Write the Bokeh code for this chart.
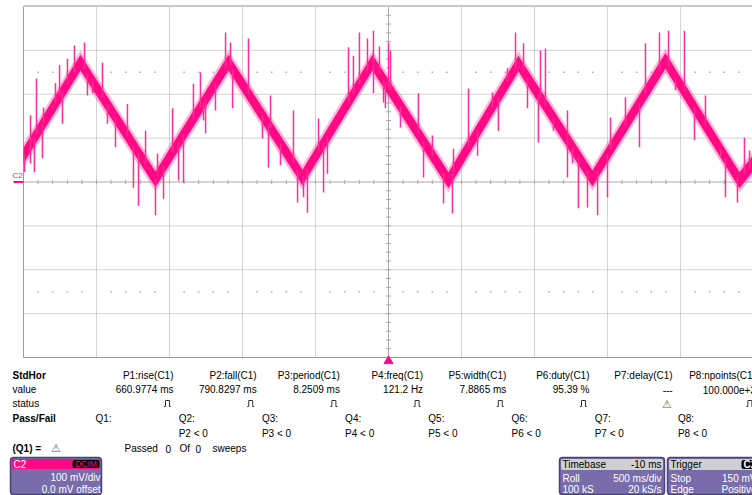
import numpy as np
from bokeh.plotting import figure
from bokeh.layouts import column
from bokeh.models import Range1d
from bokeh.core.properties import value
from bokeh.embed import file_html
from bokeh.resources import INLINE

# ---------------- data read from the screen ----------------
# triangle-like C2 trace: turning points (time in s, level in mV)
wave_t = [0.000, 0.390, 0.904, 1.404, 1.911, 2.390, 2.911, 3.390, 3.897, 4.397, 4.904, 5.000]
wave_v = [60, 272, 6, 272, 10, 272, 4, 270, 8, 276, 4, 44]
noise_half = 18      # mV, half height of the dense noise band
fuzz_half = 28       # mV, outer fuzzy edge of the band

# isolated noise spikes: time (s) and tip level (mV)
spike_t = [0.007, 0.048, 0.048, 0.075, 0.089, 0.130, 0.137, 0.199, 0.219, 0.247,
           0.267, 0.301, 0.349, 0.418, 0.438, 0.473, 0.541, 0.575, 0.630, 0.712,
           0.753, 0.788, 0.836, 0.904, 0.918, 0.959, 1.021, 1.062, 1.096, 1.164,
           1.212, 1.233, 1.247, 1.315, 1.384, 1.418, 1.432, 1.541, 1.637, 1.678,
           1.692, 1.760, 1.849, 1.877, 1.918, 1.945, 2.021, 2.055, 2.082, 2.226,
           2.260, 2.301, 2.356, 2.397, 2.397, 2.438, 2.466, 2.479, 2.500, 2.514,
           2.582, 2.705, 2.740, 2.801, 2.877, 2.938, 2.945, 3.048, 3.110, 3.178,
           3.212, 3.253, 3.315, 3.370, 3.425, 3.452, 3.527, 3.541, 3.575, 3.630,
           3.726, 3.726, 3.760, 3.801, 3.863, 3.932, 4.000, 4.021, 4.123, 4.219,
           4.260, 4.356, 4.418, 4.466, 4.527, 4.596, 4.671, 4.774, 4.808, 4.890,
           4.938, 4.973]
spike_v = [22, 152, 42, 22, 236, 54, 170, 174, 225, 266,
           133, 281, 311, 318, 197, 202, 272, 133, 79, 178,
           -13, -54, 117, -76, 65, -38, 168, 3, -1, 224,
           250, 140, 111, 163, 341, 318, 168, 327, 99, 33,
           197, 38, 163, -47, -35, -70, 145, -24, 19, 307,
           288, 341, 327, 345, 202, 309, 181, 168, 318, 299,
           124, 202, 10, 106, -49, -72, 76, 213, 60, 156,
           204, 117, 259, 341, 316, 168, 90, 300, 304, 117,
           10, 163, 42, -60, -58, -76, -35, 147, 193, 79,
           316, 341, 345, 209, 345, 95, 197, 56, -35, -47,
           101, 72]

ch_name = "C2"
ch_offset = 0.0          # mV
trig_time = 2.5          # s (screen centre)

meas_names = ["P1:rise(C1)", "P2:fall(C1)", "P3:period(C1)", "P4:freq(C1)",
              "P5:width(C1)", "P6:duty(C1)", "P7:delay(C1)", "P8:npoints(C1)"]
meas_values = ["660.9774 ms", "790.8297 ms", "8.2509 ms", "121.2 Hz",
               "7.8865 ms", "95.39 %", "---", "100.000e+3"]
meas_status = ["ok", "ok", "ok", "ok", "ok", "ok", "warn", "ok"]
qf_names = ["Q1:", "Q2:", "Q3:", "Q4:", "Q5:", "Q6:", "Q7:", "Q8:"]
qf_conds = ["", "P2 < 0", "P3 < 0", "P4 < 0", "P5 < 0", "P6 < 0", "P7 < 0", "P8 < 0"]
passed_words = ["Passed", "0", "Of", "0", "sweeps"]

ch_box = ["C2", "DCIM", "100 mV/div", "0.0 mV offset"]
tb_box = [["Timebase", "-10 ms"], ["Roll", "500 ms/div"], ["100 kS", "20 kS/s"]]
trig_box = [["Trigger", "C2"], ["Stop", "150 mV"], ["Edge", "Positive"]]

# ---------------- styling / geometry ----------------
FONT = "Liberation Sans"
PINK = "#ff0a84"
SPIKE = "#ff2d95"
FUZZ = "#ff5aac"
GRID = "#a6a6a6"
AXC = "#a9a9a9"
BOXF = "#786cab"
BOXL = "#4a4378"
HEADG = "#cfcfcf"

T_DIV, V_DIV = 0.5, 100.0
NX, NY = 10, 8
XPX, YPX = 73.0, 43.875       # pixels per division

W = 752
H1 = 366
H2 = 129
left_pad = 23.0
centre_from_top = 181.5

x_start = -left_pad / XPX * T_DIV
x_end = (W - left_pad) / XPX * T_DIV
y_end = centre_from_top / YPX * V_DIV
y_start = -(H1 - centre_from_top) / YPX * V_DIV
px_t = T_DIV / XPX
px_v = V_DIV / YPX

p = figure(width=W, height=H1, x_range=Range1d(x_start, x_end),
           y_range=Range1d(y_start, y_end), x_axis_type=None, y_axis_type=None,
           toolbar_location=None, tools="", output_backend="svg", min_border=0,
           outline_line_color=None, background_fill_color="white",
           border_fill_color="white")

t_max = NX * T_DIV
v_max = NY / 2 * V_DIV
t_mid = t_max / 2

# dotted graticule
grid_t = [k * T_DIV for k in range(1, NX) if k != NX // 2]
grid_v = [k * V_DIV for k in range(-NY // 2 + 1, NY // 2) if k != 0]
p.segment(x0=grid_t, y0=-v_max, x1=grid_t, y1=v_max, line_color=GRID,
          line_width=1, line_dash="1 1")
p.segment(x0=0, y0=grid_v, x1=t_max, y1=grid_v, line_color=GRID,
          line_width=1, line_dash="1 1")

# minor dot rows
dot_t = [k * T_DIV / 5 for k in range(1, NX * 5) if k % 5 != 0]
for vv in (2.5 * V_DIV, -2.5 * V_DIV):
    p.scatter(x=dot_t, y=[vv] * len(dot_t), marker="square", size=1.6,
              fill_color="#b0b0b0", line_color=None)

# centre cross with ticks
p.segment(x0=t_mid, y0=-v_max, x1=t_mid, y1=v_max, line_color=AXC, line_width=1)
p.segment(x0=0, y0=0, x1=t_max, y1=0, line_color=AXC, line_width=1)
tick_t = [k * T_DIV / 5 for k in range(0, NX * 5 + 1)]
p.segment(x0=tick_t, y0=-2.2 * px_v, x1=tick_t, y1=2.2 * px_v, line_color=AXC)
tick_v = [k * V_DIV / 5 for k in range(-NY // 2 * 5, NY // 2 * 5 + 1)]
p.segment(x0=t_mid - 2.5 * px_t, y0=tick_v, x1=t_mid + 2.5 * px_t, y1=tick_v,
          line_color=AXC)

# screen borders
p.segment(x0=0, y0=-v_max, x1=0, y1=v_max, line_color="#9c9c9c", line_width=1)
p.segment(x0=0, y0=-v_max, x1=t_max, y1=-v_max, line_color="#9c9c9c", line_width=1)
p.segment(x0=0, y0=v_max + 0.5 * px_v, x1=t_max, y1=v_max + 0.5 * px_v,
          line_color="#c8c8c8", line_width=2)

# trace
wt = np.array(wave_t)
wv = np.array(wave_v, dtype=float)
p.varea(x=wt, y1=wv - fuzz_half, y2=wv + fuzz_half, fill_color=FUZZ, fill_alpha=0.45)
p.varea(x=wt, y1=wv - noise_half, y2=wv + noise_half, fill_color=PINK)
st = np.array(spike_t)
base = np.interp(st, wt, wv)
p.segment(x0=st, y0=base, x1=st, y1=spike_v, line_color=SPIKE, line_width=1.5)

# channel marker and trigger marker
p.segment(x0=-10 * px_t, y0=ch_offset, x1=0, y1=ch_offset, line_color=PINK, line_width=2)
p.text(x=[-11 * px_t], y=[ch_offset + 7 * px_v], text=[ch_name],
       text_font=value(FONT), text_font_size="8px", text_color=PINK,
       text_baseline="middle", text_align="left")
p.scatter(x=[trig_time], y=[-v_max - 3.5 * px_v], marker="triangle", size=9,
          fill_color=PINK, line_color=PINK)

# ---------------- measurement panel ----------------
PB = 495.0
p2 = figure(width=W, height=H2, x_range=Range1d(0, W), y_range=Range1d(0, H2),
            x_axis_type=None, y_axis_type=None, toolbar_location=None, tools="",
            output_backend="svg", min_border=0, outline_line_color=None,
            background_fill_color="white", border_fill_color="white")


def Y(ry):
    return PB - ry


def txt(xs, ys, texts, align="left", color="black", bold=False, size="10px"):
    p2.text(x=xs, y=ys, text=texts, text_font=value(FONT), text_font_size=size,
            text_color=color, text_align=align, text_baseline="middle",
            text_font_style="bold" if bold else "normal")


col_w = 83.2
p_right = [173 + col_w * k for k in range(8)]
q_left = [95 + col_w * k for k in range(8)]

txt([12], [Y(375)], ["StdHor"], bold=True)
txt([12, 12], [Y(389), Y(403)], ["value", "status"])
txt([12], [Y(418)], ["Pass/Fail"], bold=True)
txt([12], [Y(448)], ["(Q1) ="], bold=True)
txt(p_right, [Y(375)] * 8, meas_names, align="right")
txt(p_right, [Y(389)] * 8, meas_values, align="right")
txt(q_left, [Y(418)] * 8, qf_names)
txt(q_left[1:], [Y(433)] * 7, qf_conds[1:])

# status icons
xs_ic, ys_ic, warn_x = [], [], []
for k, s in enumerate(meas_status):
    cx = p_right[k] - 6
    if s == "ok":
        b = Y(406)
        xs_ic.append([cx - 3.5, cx - 2, cx - 2, cx + 2, cx + 2, cx + 3.5])
        ys_ic.append([b, b, b + 6, b + 6, b, b])
    else:
        warn_x.append(cx)
p2.multi_line(xs=xs_ic, ys=ys_ic, line_color="#333333", line_width=1)
txt(warn_x + [55], [Y(403)] * len(warn_x) + [Y(447.5)], ["\u26a0"] * (len(warn_x) + 1),
    align="center", color="#666666", size="11px")

txt([124, 165, 179, 195, 212], [Y(448)] * 5, passed_words)

# channel box
p2.quad(left=10, right=101, top=Y(457), bottom=Y(494), fill_color=BOXF,
        line_color=BOXL, line_width=1.5, border_radius=3)
p2.quad(left=11.5, right=99.5, top=Y(458.5), bottom=Y(468.5), fill_color=PINK,
        line_color=None, border_radius=2)
p2.quad(left=72, right=99, top=Y(459.5), bottom=Y(467.5), fill_color="black",
        line_color=None, border_radius=2)
txt([13], [Y(463.5)], [ch_box[0]], color="white")
txt([85.5], [Y(463.5)], [ch_box[1]], align="center", color=PINK, size="8.5px")
txt([100, 100], [Y(476.5), Y(488.5)], ch_box[2:], align="right", color="white")

# timebase and trigger boxes
for (l, r, rt), rows in (((559, 664, 661), tb_box), ((667, 790, 756), trig_box)):
    p2.quad(left=l, right=r, top=Y(457), bottom=Y(494), fill_color=BOXF,
            line_color=BOXL, line_width=1.5, border_radius=3)
    p2.quad(left=l + 1.5, right=r - 1.5, top=Y(458.5), bottom=Y(469.5),
            fill_color=HEADG, line_color=None, border_radius=2)
    txt([l + 3], [Y(464)], [rows[0][0]])
    if rows is trig_box:
        p2.quad(left=741, right=775, top=Y(459.5), bottom=Y(468.5),
                fill_color="black", line_color=None, border_radius=2)
        txt([743], [Y(464)], [rows[0][1]], color="white", bold=True)
    else:
        txt([rt], [Y(464)], [rows[0][1]], align="right")
    txt([l + 3, l + 3], [Y(477.5), Y(488.5)], [rows[1][0], rows[2][0]], color="white")
    txt([rt, rt], [Y(477.5), Y(488.5)], [rows[1][1], rows[2][1]], align="right",
        color="white")

layout = column(p, p2, spacing=0)
open("out.html", "w").write(file_html(layout, INLINE))
